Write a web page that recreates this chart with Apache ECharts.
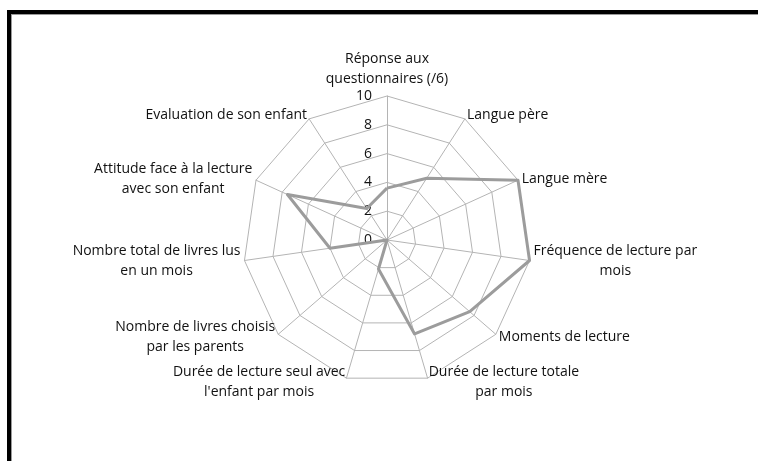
<!DOCTYPE html>
<html>
<head>
<meta charset="utf-8">
<script src="https://cdn.jsdelivr.net/npm/echarts@6/dist/echarts.min.js"></script>
<style>
  html, body { margin: 0; padding: 0; background: #fff; overflow: hidden; }
  #wrap { position: relative; width: 758px; height: 461px; overflow: hidden; }
  #frame {
    position: absolute; left: 7px; top: 10px; width: 760px; height: 460px;
    border-left: 4px solid #000; border-top: 4px solid #000;
    box-shadow: inset 1px 1px 0 #9a9a9a;
  }
  #chart { position: absolute; left: 0; top: 0; width: 758px; height: 461px; }
</style>
</head>
<body>
<div id="wrap">
  <div id="frame"></div>
  <div id="chart"></div>
</div>
<script>
// Axes, clockwise from the top
const axisNames = [
    'Réponse aux\nquestionnaires (/6)',
    'Langue père',
    'Langue mère',
    'Fréquence de lecture par\nmois',
    'Moments de lecture',
    'Durée de lecture totale\npar mois',
    'Durée de lecture seul avec\nl\'enfant par mois',
    'Nombre de livres choisis\npar les parents',
    'Nombre total de livres lus\nen un mois',
    'Attitude face à la lecture\navec son enfant',
    'Evaluation de son enfant'
];
const scores = [3.6, 5.1, 10, 10, 7.6, 6.8, 2.1, 0, 4, 7.6, 2.6];
const axisMax = 10;

const gridColor = '#b4b4b4';

// echarts radar goes counter-clockwise, so keep the first axis and flip the rest
const order = [0].concat(axisNames.map((_, i) => i).slice(1).reverse());

const chart = echarts.init(document.getElementById('chart'));
chart.setOption({
    animation: false,
    textStyle: {fontFamily: 'Open Sans'},
    radar: {
        center: [387, 240],
        radius: 144,
        shape: 'polygon',
        startAngle: 90,
        splitNumber: 5,
        indicator: order.map((idx) => {
            const ind = {name: axisNames[idx], min: 0, max: axisMax};
            if (idx === 0) {
                ind.axisLabel = {show: true};
            }
            return ind;
        }),
        nameGap: 4,
        axisName: {
            color: '#111',
            fontSize: 14,
            lineHeight: 20,
            formatter: name => name.split('\n').map(line => '{c|' + line + '}').join('\n'),
            rich: {
                c: {align: 'center', fontSize: 14, lineHeight: 20, color: '#111', fontFamily: 'Open Sans'}
            }
        },
        axisLine: {lineStyle: {color: gridColor, width: 1}},
        splitLine: {lineStyle: {color: gridColor, width: 1}},
        splitArea: {show: false},
        axisTick: {show: false},
        axisLabel: {
            show: false,
            color: '#111',
            fontSize: 14,
            margin: 15
        }
    },
    series: [{
        type: 'radar',
        symbol: 'none',
        lineStyle: {color: '#9c9c9c', width: 3},
        data: [{value: order.map(idx => scores[idx])}]
    }]
});
</script>
</body>
</html>
